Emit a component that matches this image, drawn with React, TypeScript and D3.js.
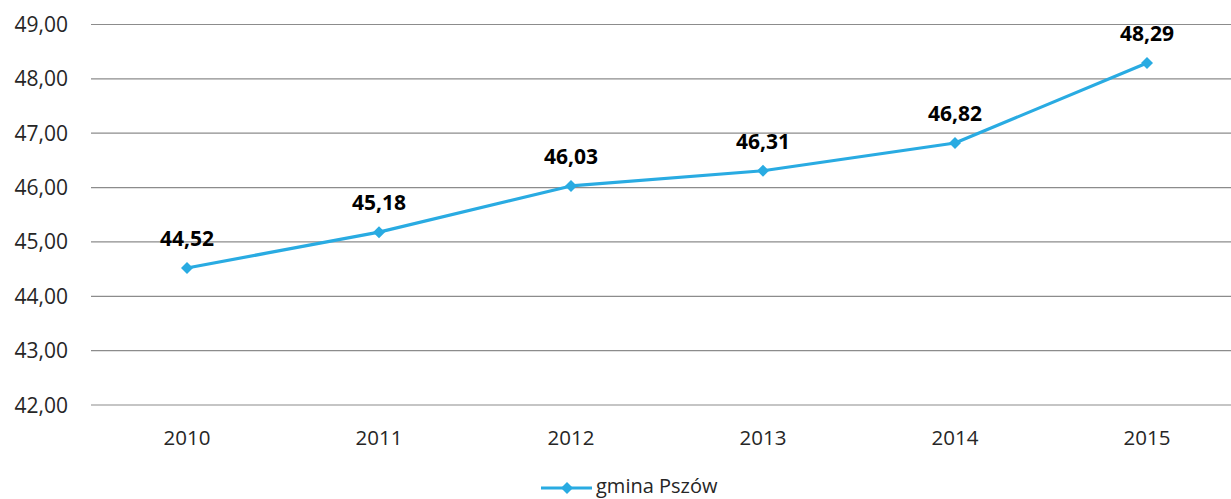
import React from "react";
import * as d3 from "d3";

const years = ["2010", "2011", "2012", "2013", "2014", "2015"];
const values = [44.52, 45.18, 46.03, 46.31, 46.82, 48.29];
const yTicks = [42, 43, 44, 45, 46, 47, 48, 49];
const seriesName = "gmina Pszów";

const W = 1231;
const H = 499;
const COLOR = "#29abe2";
const FONT = "'Open Sans', 'DejaVu Sans', sans-serif";

const fmt = (v: number) => v.toFixed(2).replace(".", ",");

export default function App() {
  const x = d3.scalePoint<string>().domain(years).range([91, 1243]).padding(0.5);
  const y = d3.scaleLinear().domain([42, 49]).range([405, 24.5]);
  const line = d3
    .line<number>()
    .x((_, i) => x(years[i]) as number)
    .y((d) => y(d));
  const diamond = (cx: number, cy: number, r: number) =>
    `M${cx},${cy - r}L${cx + r},${cy}L${cx},${cy + r}L${cx - r},${cy}Z`;

  return (
    <svg
      width={W}
      height={H}
      style={{ position: "absolute", left: 0, top: 0, background: "#fff" }}
      fontFamily={FONT}
    >
      <rect width={W} height={H} fill="#fff" />
      {yTicks.map((t) => (
        <g key={t}>
          <line x1={91} x2={W} y1={y(t)} y2={y(t)} stroke="#8c8c8c" strokeWidth={1.2} />
          <text x={68} y={y(t)} dy="0.36em" textAnchor="end" fontSize={21} fill="#262626">
            {fmt(t)}
          </text>
        </g>
      ))}
      {years.map((yr) => (
        <text key={yr} x={x(yr)} y={445} textAnchor="middle" fontSize={20.5} fill="#262626">
          {yr}
        </text>
      ))}
      <path d={line(values) || ""} fill="none" stroke={COLOR} strokeWidth={3.2} strokeLinejoin="round" />
      {values.map((v, i) => {
        const cx = x(years[i]) as number;
        const cy = y(v);
        return (
          <g key={i}>
            <path d={diamond(cx, cy, 6)} fill={COLOR} />
            <text x={cx} y={cy - 22} textAnchor="middle" fontSize={21} fontWeight="bold" fill="#000">
              {fmt(v)}
            </text>
          </g>
        );
      })}
      <g>
        <line x1={541} x2={592} y1={488} y2={488} stroke={COLOR} strokeWidth={3.2} />
        <path d={diamond(567, 488, 6)} fill={COLOR} />
        <text x={596} y={493} fontSize={20} fill="#262626">
          {seriesName}
        </text>
      </g>
    </svg>
  );
}
